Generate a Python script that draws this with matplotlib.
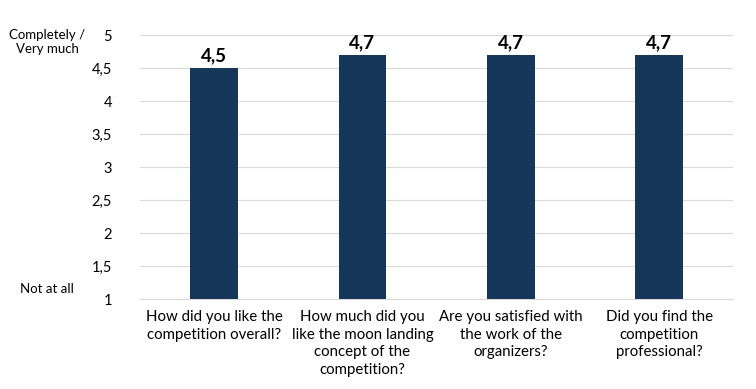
import matplotlib.pyplot as plt
from matplotlib.ticker import FuncFormatter

plt.rcParams['font.family'] = ['Lato', 'DejaVu Sans']

# Data
questions = [
    "How did you like the\ncompetition overall?",
    "How much did you\nlike the moon landing\nconcept of the\ncompetition?",
    "Are you satisfied with\nthe work of the\norganizers?",
    "Did you find the\ncompetition\nprofessional?",
]
scores = [4.5, 4.7, 4.7, 4.7]
score_labels = ["4,5", "4,7", "4,7", "4,7"]
y_ticks = [1, 1.5, 2, 2.5, 3, 3.5, 4, 4.5, 5]

fig = plt.figure(figsize=(7.56, 3.89), dpi=100)
ax = fig.add_axes([0.185, 0.231, 0.785, 0.679])

x = range(len(questions))
bars = ax.bar(x, [s - 1 for s in scores], bottom=1, width=0.32, color='#14375A', zorder=3)

for xi, s, lab in zip(x, scores, score_labels):
    ax.text(xi, s + 0.06, lab, ha='center', va='bottom', fontsize=13.5,
            fontweight='bold', color='black')

ax.set_xlim(-0.5, len(questions) - 0.5)
ax.set_ylim(1, 5)
ax.set_yticks(y_ticks)
ax.yaxis.set_major_formatter(FuncFormatter(lambda v, p: f"{v:g}".replace('.', ',')))
ax.set_xticks(list(x))
ax.set_xticklabels(questions, fontsize=10.8, va='top', linespacing=1.32)
ax.tick_params(axis='x', length=0, pad=8)
ax.tick_params(axis='y', length=0, pad=20, labelsize=10.5)

ax.grid(axis='y', color='#d9d9d9', linewidth=0.8, zorder=0)
for side in ['top', 'right', 'left']:
    ax.spines[side].set_visible(False)
ax.spines['bottom'].set_color('#d9d9d9')

fig.text(47 / 756, 1 - 42 / 389, "Completely /\nVery much", ha='center', va='center',
         fontsize=9.5, linespacing=1.2)
fig.text(47 / 756, 1 - 289 / 389, "Not at all", ha='center', va='center', fontsize=9.5)

plt.savefig('out.png', dpi=100)
